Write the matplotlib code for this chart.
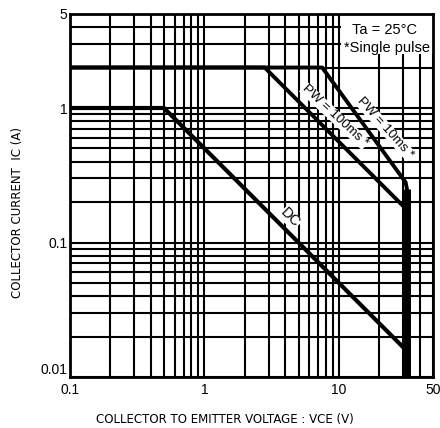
import matplotlib
matplotlib.use("Agg")
import matplotlib.pyplot as plt
from matplotlib.ticker import FixedLocator, NullFormatter, FixedFormatter
from matplotlib.patches import Rectangle

plt.rcParams['font.family'] = ['Liberation Sans', 'DejaVu Sans']

# Safe operating area curves (V, A)
dc_v = [0.1, 0.5, 32, 32]
dc_i = [1.0, 1.0, 0.0156, 0.01]
pw100_v = [0.1, 2.8, 32]
pw100_i = [2.0, 2.0, 0.175]
pw10_v = [0.1, 7.5, 31.3, 32, 32]
pw10_i = [2.0, 2.0, 0.28, 0.25, 0.01]

x_ticks = [0.1, 1, 10, 50]
x_labels = ["0.1", "1", "10", "50"]
y_ticks = [0.01, 0.1, 1, 5]
y_labels = ["0.01", "0.1", "1", "5"]

x_minor = [m * d for d in (0.1, 1, 10) for m in range(2, 10) if m * d < 50]
y_minor = [m * d for d in (0.01, 0.1, 1) for m in range(2, 10) if m * d < 5]

fig = plt.figure(figsize=(4.4, 4.28), dpi=100)
ax = fig.add_axes([70/440, 1-377/428, 363/440, 363/428])
ax.set_xscale('log')
ax.set_yscale('log')
ax.set_xlim(0.1, 50)
ax.set_ylim(0.01, 5)

ax.xaxis.set_major_locator(FixedLocator(x_ticks))
ax.xaxis.set_major_formatter(FixedFormatter(x_labels))
ax.yaxis.set_major_locator(FixedLocator(y_ticks))
ax.yaxis.set_major_formatter(FixedFormatter(y_labels))
ax.xaxis.set_minor_locator(FixedLocator(x_minor))
ax.yaxis.set_minor_locator(FixedLocator(y_minor))
ax.xaxis.set_minor_formatter(NullFormatter())
ax.yaxis.set_minor_formatter(NullFormatter())
ax.tick_params(which='both', length=0, labelsize=10, pad=2)
ax.tick_params(axis='x', pad=4)

ax.set_axisbelow(True)
ax.grid(which='both', color='black', lw=1.5)
for s in ax.spines.values():
    s.set_linewidth(2)
    s.set_zorder(5)

ax.plot(dc_v, dc_i, color='black', lw=3, zorder=3, solid_capstyle='butt')
ax.plot(pw100_v, pw100_i, color='black', lw=2.8, zorder=3)
ax.plot(pw10_v, pw10_i, color='black', lw=2.8, zorder=3)
ax.plot([32, 32], [0.25, 0.01], color='black', lw=5, zorder=3, solid_capstyle='butt')

ax.add_patch(Rectangle((10.4, 2.5), 50 - 10.4, 5 - 2.5, facecolor='white',
                       edgecolor='none', zorder=2))
ax.text(0.866, 0.955, "Ta = 25°C", transform=ax.transAxes, ha='center',
        va='center', fontsize=10.5, zorder=6)
ax.text(0.872, 0.905, "*Single pulse", transform=ax.transAxes, ha='center',
        va='center', fontsize=10.5, zorder=6)

lbl_box = dict(facecolor='white', edgecolor='none', pad=0.3)
ax.text(4.33, 0.152, "DC", rotation=-45, ha='center', va='center',
        fontsize=10.5, zorder=6, bbox=lbl_box)
ax.text(9.3, 0.87, "PW = 100ms *", rotation=-43, ha='center', va='center',
        fontsize=9.5, zorder=6, bbox=lbl_box)
ax.text(22.0, 0.71, "PW = 10ms *", rotation=-48, ha='center', va='center',
        fontsize=9.5, zorder=6, bbox=lbl_box)

fig.text(225/440, 1-419/428, "COLLECTOR TO EMITTER VOLTAGE : VCE (V)",
         ha='center', va='center', fontsize=8.5, family='DejaVu Sans')
fig.text(18/440, 1-212/428, "COLLECTOR CURRENT  IC (A)", rotation=90,
         ha='center', va='center', fontsize=8.5, family='DejaVu Sans')

fig.canvas.draw()
ax.get_yticklabels()[0].set_va('bottom')

fig.savefig("out.png", dpi=100, facecolor='white')
